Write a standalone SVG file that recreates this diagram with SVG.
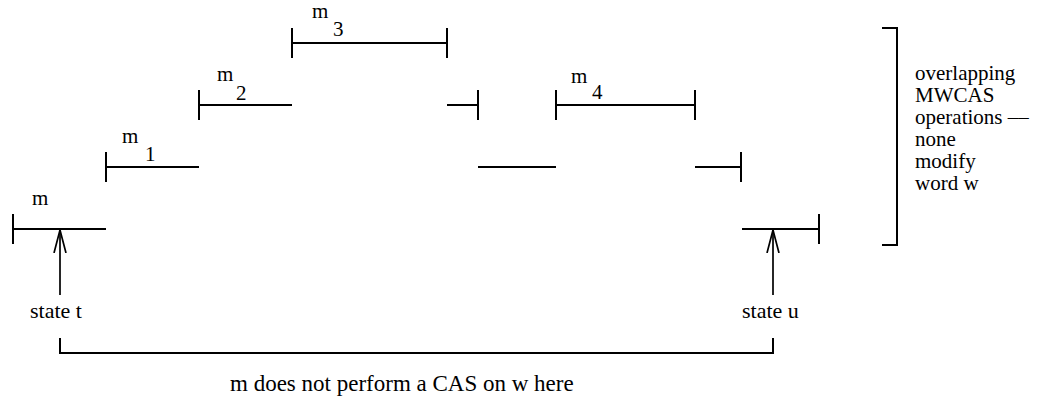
<svg xmlns="http://www.w3.org/2000/svg" width="1043" height="403" viewBox="0 0 1043 403">
  <defs>
    <style>
      .seg { stroke: #000; stroke-width: 2; fill: none; }
      .thin { stroke: #000; stroke-width: 1.7; fill: none; }
      .lbl { font-family: "Liberation Serif", "Times New Roman", Times, serif; font-size: 21px; fill: #000; }
      .big { font-size: 22px; }
      .note { font-size: 23px; }
    </style>
    <marker id="openHead" viewBox="0 0 24 14" refX="23" refY="7" markerWidth="24" markerHeight="14" markerUnits="userSpaceOnUse" orient="auto">
      <path d="M0,1 L23,7 L0,13" fill="none" stroke="#000" stroke-width="1.7"/>
    </marker>
  </defs>
  <rect width="1043" height="403" fill="#fff"/>

  <!-- operation m -->
  <g id="op-m">
    <path class="seg" d="M13,214 V244 M13,229 H106"/>
    <path class="seg" d="M742,229 H819 M819,214 V244"/>
    <text class="lbl" x="32" y="205">m</text>
  </g>

  <!-- operation m1 -->
  <g id="op-m1">
    <path class="seg" d="M106,152 V182 M106,167 H199"/>
    <path class="seg" d="M478,167 H556"/>
    <path class="seg" d="M695,167 H741 M741,152 V182"/>
    <text class="lbl" x="122" y="143">m</text>
    <text class="lbl" x="145" y="161">1</text>
  </g>

  <!-- operation m2 -->
  <g id="op-m2">
    <path class="seg" d="M199,90 V120 M199,105 H292"/>
    <path class="seg" d="M447,105 H478 M478,90 V120"/>
    <text class="lbl" x="217" y="81">m</text>
    <text class="lbl" x="236" y="100">2</text>
  </g>

  <!-- operation m3 -->
  <g id="op-m3">
    <path class="seg" d="M292,28 V58 M292,43 H447 M447,28 V58"/>
    <text class="lbl" x="312" y="18">m</text>
    <text class="lbl" x="333" y="36">3</text>
  </g>

  <!-- operation m4 -->
  <g id="op-m4">
    <path class="seg" d="M556,90 V120 M556,105 H695 M695,90 V120"/>
    <text class="lbl" x="571" y="83">m</text>
    <text class="lbl" x="592" y="99">4</text>
  </g>

  <!-- state markers -->
  <g id="state-t">
    <text class="lbl big" x="30" y="318">state t</text>
  </g>
  <g id="state-u">
    <text class="lbl big" x="742" y="318">state u</text>
  </g>

  <!-- side note -->
  <g id="note-overlap">
    <path class="seg" d="M882,28 H897 V245 H882"/>
    <text class="lbl" x="915" y="80">overlapping</text>
    <text class="lbl" x="915" y="102">MWCAS</text>
    <text class="lbl" x="915" y="124">operations ––</text>
    <text class="lbl" x="915" y="146">none</text>
    <text class="lbl" x="915" y="168">modify</text>
    <text class="lbl" x="915" y="190">word w</text>
  </g>

  <!-- interval note -->
  <g id="note-interval">
    <path class="seg" d="M60,338 V353 H773 V338"/>
    <text class="lbl note" x="230" y="391">m does not perform a CAS on w here</text>
  </g>

  <!-- connectors -->
  <g id="connectors">
    <line class="thin" x1="60" y1="295" x2="60" y2="230" marker-end="url(#openHead)"/>
    <line class="thin" x1="773" y1="295" x2="773" y2="230" marker-end="url(#openHead)"/>
  </g>
</svg>
